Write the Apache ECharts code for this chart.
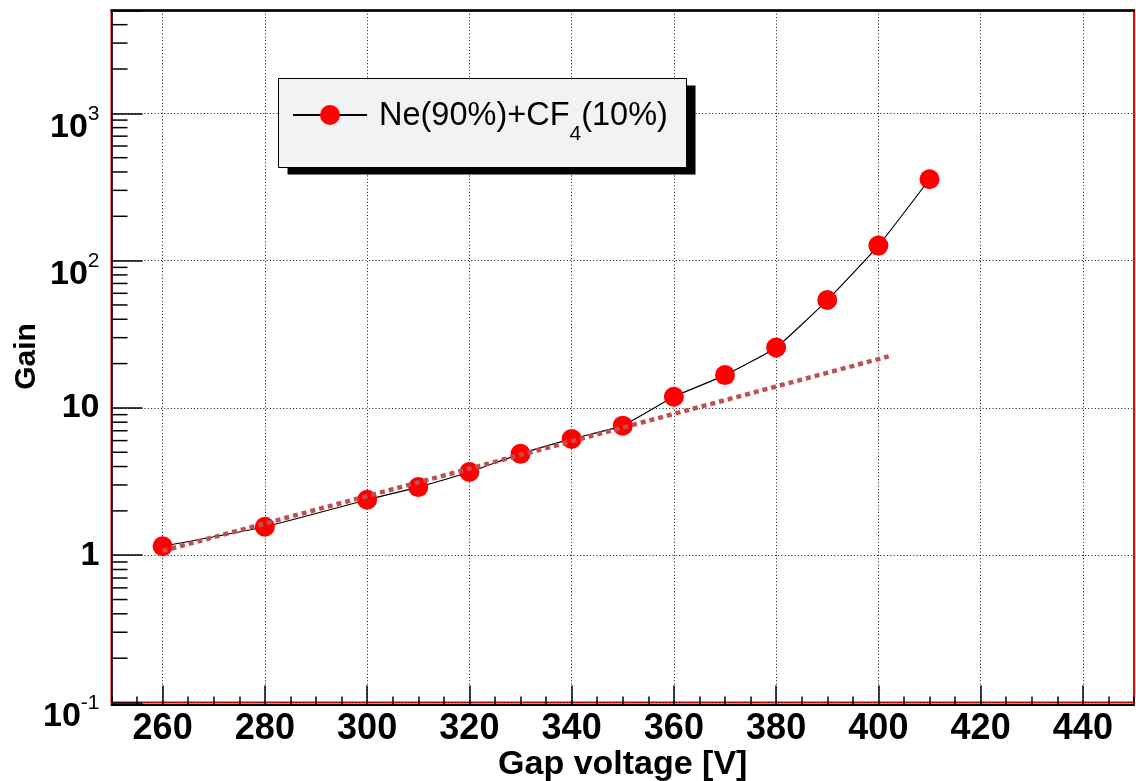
<!DOCTYPE html>
<html>
<head>
<meta charset="utf-8">
<script src="https://cdn.jsdelivr.net/npm/echarts@6/dist/echarts.min.js"></script>
<style>
html,body{margin:0;padding:0;background:#fff;}
#chart{width:1136px;height:781px;}
</style>
</head>
<body>
<div id="chart"></div>
<script>
// ---- data ----
const seriesName = 'Ne(90%)+CF4(10%)';
const voltage = [260, 280, 300, 310, 320, 330, 340, 350, 360, 370, 380, 390, 400, 410];
const gain    = [1.15, 1.56, 2.38, 2.90, 3.67, 4.88, 6.16, 7.58, 11.9, 16.7, 25.7, 54.0, 126.5, 357];
const fitVoltage = [260, 402];
const fitGain    = [1.07, 22.4];
const xMajorTicks = [260, 280, 300, 320, 340, 360, 380, 400, 420, 440];
const yTickValues = [0.1, 1, 10, 100, 1000];
const yTickLabels = ['{b|10}{s|-1}', '{n|1}', '{n|10}', '{b|10}{s|2}', '{b|10}{s|3}'];
const yMinorTicks = [0.2, 0.3, 0.4, 0.5, 0.6, 0.7, 0.8, 0.9,
                     2, 3, 4, 5, 6, 7, 8, 9,
                     20, 30, 40, 50, 60, 70, 80, 90,
                     200, 300, 400, 500, 600, 700, 800, 900,
                     2000, 3000, 4000];
const xMin = 250, xMax = 450, yMin = 0.1, yMax = 5000;

const FONT = '"Liberation Sans", Arial, Helvetica, sans-serif';
const gridLine = { color: '#111', width: 1, type: [1, 2.3] };

// legend frame (decoration only)
const LEG = { x: 278.5, y: 78.5, w: 408, h: 89, dx: 9, dy: 7 };

const chart = echarts.init(document.getElementById('chart'), null, { renderer: 'canvas' });

const option = {
  backgroundColor: '#ffffff',
  animation: false,
  textStyle: { fontFamily: FONT },
  grid: {
    left: 111.5, right: 2, top: 10.4, bottom: 78.5,
    containLabel: false, outerBoundsMode: 'none',
    show: true, borderColor: '#ff0000', borderWidth: 2, backgroundColor: 'transparent'
  },
  graphic: [
    { type: 'rect', z: 10, silent: true,
      shape: { x: LEG.x + LEG.dx, y: LEG.y + LEG.dy, width: LEG.w, height: LEG.h },
      style: { fill: '#000' } },
    { type: 'rect', z: 11, silent: true,
      shape: { x: LEG.x, y: LEG.y, width: LEG.w, height: LEG.h },
      style: { fill: '#f2f2f2', stroke: '#000', lineWidth: 1 } }
  ],
  legend: {
    data: [seriesName],
    left: 278, top: 78,
    orient: 'horizontal',
    z: 20,
    padding: [22, 16, 22, 14],
    itemWidth: 74, itemHeight: 25,
    backgroundColor: 'transparent',
    borderWidth: 0,
    formatter: () => '{m0|Ne(90%)+CF}{s|4}{m|(10%)}',
    textStyle: {
      fontFamily: FONT, color: '#000',
      rich: {
        m0: { fontSize: 32.5, lineHeight: 30, fontFamily: FONT, color: '#000', verticalAlign: 'top', padding: [0, 0, 0, 7] },
        m:  { fontSize: 32.5, lineHeight: 30, fontFamily: FONT, color: '#000', verticalAlign: 'top' },
        s:  { fontSize: 21, lineHeight: 21, fontFamily: FONT, color: '#000', verticalAlign: 'top', padding: [24, 0, 0, 0] }
      }
    }
  },
  xAxis: [
    {
      type: 'value', min: xMin, max: xMax, position: 'bottom', offset: 2,
      axisLine: { show: true, onZero: false, lineStyle: { color: '#000', width: 2 } },
      axisTick: { show: true, inside: true, length: 19, customValues: xMajorTicks, lineStyle: { color: '#000', width: 1.5 } },
      axisLabel: {
        show: true, customValues: xMajorTicks, margin: 7,
        fontSize: 36, fontWeight: 'bold', color: '#000', fontFamily: FONT
      },
      splitLine: { show: true, lineStyle: gridLine },
      name: 'Gap voltage [V]', nameLocation: 'middle', nameGap: 43, nameMoveOverlap: false,
      nameTextStyle: { fontSize: 34, fontWeight: 'bold', color: '#000', fontFamily: FONT }
    },
    {
      type: 'value', min: xMin, max: xMax, interval: 5, position: 'bottom', offset: 2,
      axisLine: { show: false },
      axisTick: { show: true, inside: true, length: 8, lineStyle: { color: '#000', width: 1.5 } },
      axisLabel: { show: false },
      splitLine: { show: false }
    },
    {
      type: 'value', min: xMin, max: xMax, position: 'top',
      axisLine: { show: true, onZero: false, lineStyle: { color: '#000', width: 2.5 } },
      axisTick: { show: false }, axisLabel: { show: false }, splitLine: { show: false }
    }
  ],
  yAxis: {
    type: 'log', logBase: 10, min: yMin, max: yMax, position: 'left',
    axisLine: { show: true, onZero: false, lineStyle: { color: '#000', width: 1.5 } },
    axisTick: { show: true, inside: true, length: 31, lineStyle: { color: '#000', width: 1.5 } },
    axisLabel: {
      show: true, margin: 12, color: '#000',
      formatter: (v) => {
        for (let i = 0; i < yTickValues.length; i++) {
          if (Math.abs(Math.log10(v) - Math.log10(yTickValues[i])) < 1e-6) return yTickLabels[i];
        }
        return '';
      },
      rich: {
        n: { fontSize: 34, lineHeight: 34, fontWeight: 'bold', color: '#000', fontFamily: FONT },
        b: { fontSize: 34, lineHeight: 34, fontWeight: 'bold', color: '#000', fontFamily: FONT, padding: [14, 0, 0, 0], verticalAlign: 'top' },
        s: { fontSize: 21, lineHeight: 21, fontWeight: 'normal', color: '#000', fontFamily: FONT, padding: [7, 0, 0, 0], verticalAlign: 'top' }
      }
    },
    splitLine: { show: true, lineStyle: gridLine },
    name: 'Gain', nameLocation: 'middle', nameRotate: 90, nameGap: 70, nameMoveOverlap: false,
    nameTextStyle: { fontSize: 30, fontWeight: 'bold', color: '#000', fontFamily: FONT }
  },
  series: [
    {
      type: 'custom', name: 'yMinor', silent: true, xAxisIndex: 0, yAxisIndex: 0,
      clip: false,
      data: yMinorTicks.map(v => [xMin, v]),
      renderItem: (params, api) => {
        const p = api.coord([api.value(0), api.value(1)]);
        return { type: 'line', shape: { x1: p[0], y1: p[1], x2: p[0] + 16, y2: p[1] },
                 style: { stroke: '#000', lineWidth: 1.5 } };
      },
      z: 5
    },
    {
      type: 'line', name: seriesName,
      data: voltage.map((v, i) => [v, gain[i]]),
      smooth: 0.15,
      symbol: 'circle', symbolSize: 20,
      itemStyle: { color: '#ff0000' },
      lineStyle: { color: '#000', width: 1.2 },
      z: 3
    },
    {
      type: 'line', name: 'fit',
      data: fitVoltage.map((v, i) => [v, fitGain[i]]),
      symbol: 'none',
      lineStyle: { color: '#c05050', width: 4.5, type: [5, 4] },
      z: 4
    }
  ]
};
chart.setOption(option);
</script>
</body>
</html>
